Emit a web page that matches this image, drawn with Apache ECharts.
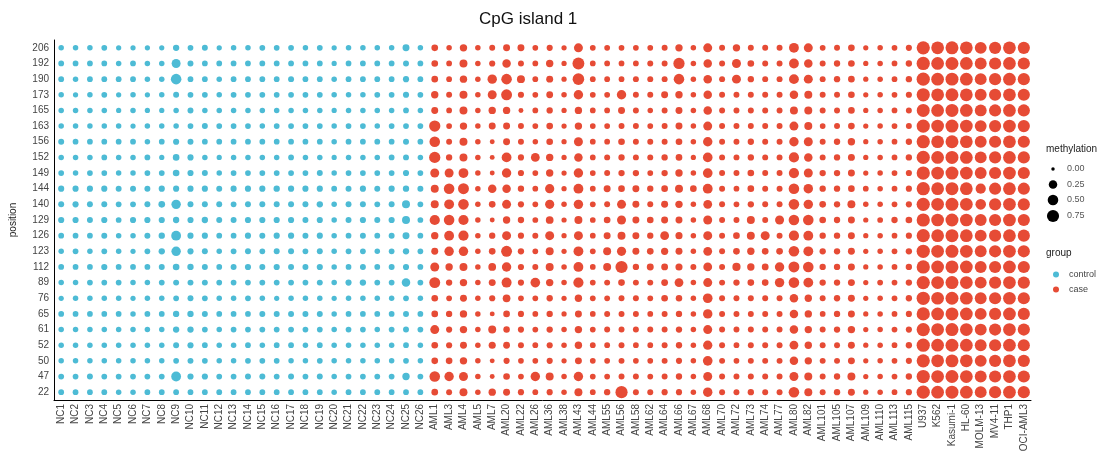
<!DOCTYPE html>
<html>
<head>
<meta charset="utf-8">
<script src="https://cdn.jsdelivr.net/npm/echarts@6/dist/echarts.min.js"></script>
<style>
  html, body { margin: 0; padding: 0; background: #fff; }
  #chart { width: 1111px; height: 467px; }
</style>
</head>
<body>
<div id="chart"></div>
<script>
// CpG positions, listed top to bottom
const positions = ['206','192','190','173','165','163','156','152','149','144','140','129','126','123','112','89','76','65','61','52','50','47','22'];

// Control samples
const ncSamples = ['NC1','NC2','NC3','NC4','NC5','NC6','NC7','NC8','NC9','NC10','NC11','NC12','NC13','NC14','NC15','NC16','NC17','NC18','NC19','NC20','NC21','NC22','NC23','NC24','NC25','NC26'];

// AML patient samples
const amlSamples = ['AML1','AML3','AML4','AML5','AML7','AML20','AML22','AML26','AML36','AML38','AML43','AML44','AML55','AML56','AML58','AML62','AML64','AML66','AML67','AML68','AML70','AML72','AML73','AML74','AML77','AML80','AML82','AML101','AML105','AML107','AML109','AML110','AML113','AML115'];

// Leukemia cell lines
const cellSamples = ['U937','K562','Kasumi-1','HL-60','MOLM-13','MV4-11','THP1','OCI-AML3'];

// Methylation per sample, one entry per position (same order as positions)
const ncValues = [
  [.04,.05,.05,.04,.04,.04,.06,.04,.05,.07,.06,.07,.05,.04,.05,.04,.03,.05,.04,.04,.04,.05,.05],
  [.04,.05,.04,.03,.04,.04,.05,.04,.04,.07,.07,.07,.05,.05,.05,.04,.04,.05,.04,.04,.04,.05,.05],
  [.04,.05,.05,.04,.04,.04,.05,.04,.05,.07,.06,.06,.05,.04,.05,.05,.04,.05,.04,.04,.04,.06,.05],
  [.05,.05,.05,.05,.04,.04,.05,.05,.05,.07,.06,.07,.06,.05,.07,.05,.04,.05,.04,.04,.04,.05,.05],
  [.03,.04,.05,.03,.03,.04,.05,.04,.04,.06,.05,.05,.04,.04,.05,.05,.04,.05,.04,.04,.04,.05,.04],
  [.03,.05,.05,.04,.04,.03,.05,.04,.04,.06,.05,.07,.04,.03,.05,.04,.03,.04,.04,.04,.04,.05,.04],
  [.03,.04,.04,.03,.03,.04,.04,.05,.05,.06,.06,.07,.06,.05,.05,.04,.04,.05,.04,.04,.04,.05,.05],
  [.03,.04,.04,.04,.03,.04,.05,.03,.05,.07,.10,.07,.08,.08,.06,.05,.04,.05,.04,.04,.04,.05,.05],
  [.08,.30,.50,.06,.04,.04,.07,.10,.10,.07,.35,.08,.40,.35,.10,.06,.05,.08,.08,.06,.05,.40,.05],
  [.05,.06,.05,.05,.06,.05,.06,.07,.07,.07,.06,.07,.07,.07,.08,.06,.06,.08,.08,.07,.06,.07,.05],
  [.06,.05,.05,.05,.04,.06,.05,.04,.06,.07,.06,.08,.07,.06,.06,.06,.05,.06,.05,.05,.05,.07,.05],
  [.03,.05,.04,.04,.04,.05,.05,.03,.04,.06,.06,.06,.05,.04,.05,.05,.04,.05,.04,.04,.04,.05,.05],
  [.04,.05,.05,.05,.04,.05,.05,.04,.05,.07,.05,.06,.05,.05,.06,.05,.04,.05,.05,.04,.04,.05,.05],
  [.04,.05,.05,.05,.04,.05,.05,.04,.05,.07,.06,.07,.07,.06,.07,.05,.05,.05,.05,.05,.05,.06,.05],
  [.05,.05,.05,.05,.04,.04,.05,.04,.05,.07,.06,.07,.06,.05,.06,.05,.04,.06,.05,.04,.05,.06,.05],
  [.05,.05,.05,.05,.04,.05,.05,.04,.05,.08,.06,.07,.07,.06,.07,.05,.03,.06,.05,.05,.05,.05,.05],
  [.05,.05,.06,.05,.04,.05,.05,.05,.05,.07,.06,.07,.07,.06,.06,.05,.04,.06,.05,.05,.04,.06,.05],
  [.04,.05,.05,.05,.04,.05,.05,.04,.05,.07,.06,.06,.06,.05,.06,.05,.04,.06,.05,.04,.04,.05,.05],
  [.05,.05,.05,.05,.04,.05,.05,.04,.06,.07,.08,.07,.07,.06,.07,.06,.04,.06,.05,.05,.05,.06,.05],
  [.03,.03,.04,.04,.03,.04,.04,.03,.04,.05,.04,.04,.04,.04,.04,.04,.03,.04,.04,.04,.04,.04,.04],
  [.04,.05,.05,.04,.04,.05,.05,.04,.05,.06,.06,.06,.05,.05,.05,.07,.04,.05,.05,.04,.04,.05,.05],
  [.04,.05,.05,.04,.04,.05,.05,.04,.05,.07,.06,.07,.06,.05,.06,.08,.04,.05,.05,.04,.04,.05,.05],
  [.04,.05,.05,.05,.04,.04,.05,.04,.05,.06,.05,.06,.05,.04,.05,.05,.04,.05,.04,.04,.04,.05,.05],
  [.04,.05,.05,.05,.04,.05,.05,.05,.05,.07,.06,.07,.06,.05,.06,.05,.04,.05,.05,.04,.04,.05,.05],
  [.12,.06,.07,.07,.05,.05,.06,.06,.07,.08,.20,.20,.12,.08,.07,.25,.05,.06,.06,.05,.05,.15,.05],
  [.04,.05,.05,.05,.04,.05,.05,.04,.05,.06,.05,.05,.05,.05,.05,.05,.04,.05,.05,.04,.04,.05,.05]
];

const amlValues = [
  [.10,.10,.10,.15,.12,.60,.50,.60,.30,.20,.20,.45,.15,.12,.30,.55,.10,.10,.30,.10,.10,.50,.10],
  [.04,.05,.05,.06,.05,.05,.06,.08,.30,.50,.40,.50,.40,.35,.15,.08,.05,.08,.07,.07,.10,.35,.06],
  [.15,.20,.15,.20,.20,.15,.20,.20,.40,.55,.50,.45,.45,.35,.20,.15,.12,.15,.15,.12,.15,.30,.20],
  [.04,.04,.04,.04,.04,.04,.04,.04,.04,.04,.04,.04,.04,.04,.04,.04,.04,.04,.04,.04,.04,.04,.04],
  [.06,.07,.35,.30,.15,.12,.02,.02,.02,.25,.10,.02,.08,.10,.18,.12,.07,.02,.20,.13,.02,.02,.15],
  [.12,.25,.50,.55,.15,.12,.12,.40,.35,.25,.30,.15,.30,.55,.35,.42,.18,.10,.09,.11,.07,.10,.12],
  [.12,.06,.20,.07,.02,.06,.06,.07,.07,.08,.07,.08,.07,.08,.07,.07,.05,.07,.07,.06,.05,.05,.07],
  [.05,.05,.05,.05,.05,.05,.04,.28,.05,.05,.05,.05,.06,.05,.06,.38,.05,.05,.05,.05,.05,.35,.05],
  [.07,.15,.12,.11,.08,.10,.10,.15,.15,.33,.32,.18,.30,.20,.20,.15,.08,.08,.08,.07,.07,.20,.07],
  [.03,.03,.03,.04,.03,.03,.03,.03,.03,.03,.04,.03,.03,.03,.04,.04,.03,.03,.04,.04,.03,.04,.04],
  [.30,.70,.65,.35,.15,.15,.30,.25,.35,.40,.35,.20,.30,.40,.40,.45,.15,.12,.15,.15,.12,.35,.20],
  [.05,.05,.05,.05,.05,.05,.05,.05,.05,.05,.05,.05,.05,.05,.05,.05,.05,.05,.05,.05,.05,.05,.05],
  [.05,.05,.05,.05,.05,.05,.05,.06,.06,.12,.06,.10,.12,.20,.20,.06,.05,.06,.06,.05,.05,.05,.08],
  [.05,.05,.05,.35,.12,.06,.10,.08,.08,.10,.30,.30,.20,.32,.75,.10,.06,.06,.06,.06,.06,.06,.75],
  [.05,.05,.06,.06,.06,.06,.06,.06,.08,.12,.12,.12,.12,.12,.08,.06,.06,.06,.06,.05,.05,.06,.06],
  [.05,.06,.06,.06,.04,.05,.06,.06,.05,.08,.06,.10,.08,.10,.12,.06,.05,.05,.06,.05,.05,.05,.06],
  [.06,.06,.06,.12,.06,.06,.06,.08,.08,.10,.12,.12,.28,.14,.11,.11,.10,.06,.06,.06,.06,.06,.07],
  [.15,.60,.50,.15,.12,.12,.10,.10,.15,.20,.15,.12,.13,.12,.13,.28,.09,.08,.08,.08,.07,.08,.07],
  [.04,.04,.04,.04,.04,.04,.04,.03,.04,.10,.04,.04,.04,.04,.06,.04,.04,.04,.04,.04,.04,.04,.04],
  [.30,.25,.25,.25,.25,.30,.35,.38,.38,.40,.28,.30,.30,.28,.28,.30,.38,.35,.30,.33,.38,.30,.35],
  [.06,.06,.06,.06,.06,.06,.06,.06,.06,.06,.06,.06,.06,.06,.06,.06,.06,.06,.06,.06,.06,.06,.06],
  [.15,.30,.30,.06,.06,.06,.06,.06,.06,.05,.05,.06,.10,.10,.22,.08,.06,.06,.06,.05,.05,.06,.06],
  [.06,.10,.08,.06,.06,.06,.08,.08,.10,.10,.08,.20,.20,.15,.15,.10,.06,.06,.06,.06,.06,.06,.08],
  [.06,.06,.06,.06,.06,.06,.06,.06,.06,.06,.06,.06,.30,.10,.11,.10,.06,.06,.06,.06,.06,.06,.06],
  [.06,.06,.06,.06,.06,.06,.06,.06,.06,.06,.06,.30,.06,.10,.35,.35,.06,.06,.06,.06,.06,.06,.06],
  [.40,.40,.40,.25,.20,.30,.35,.45,.45,.50,.50,.50,.45,.50,.55,.50,.25,.25,.25,.28,.25,.30,.50],
  [.30,.25,.30,.20,.20,.20,.30,.25,.30,.35,.35,.50,.40,.40,.50,.40,.15,.15,.15,.15,.15,.20,.20],
  [.05,.06,.06,.06,.06,.05,.06,.06,.08,.08,.10,.10,.08,.08,.08,.08,.06,.05,.06,.06,.06,.06,.06],
  [.06,.08,.08,.06,.06,.06,.08,.08,.08,.08,.08,.08,.08,.08,.08,.08,.08,.08,.08,.06,.06,.08,.08],
  [.10,.10,.10,.10,.10,.10,.15,.12,.12,.10,.20,.12,.12,.12,.12,.12,.12,.12,.15,.12,.12,.20,.12],
  [.03,.03,.03,.03,.03,.03,.03,.03,.03,.05,.04,.03,.03,.03,.03,.03,.03,.03,.03,.03,.03,.03,.03],
  [.04,.04,.04,.04,.04,.04,.04,.04,.04,.04,.04,.05,.04,.04,.04,.05,.04,.04,.04,.04,.04,.04,.04],
  [.05,.05,.05,.05,.05,.05,.05,.05,.05,.05,.05,.08,.05,.05,.05,.05,.05,.05,.05,.05,.05,.05,.05],
  [.07,.08,.08,.07,.06,.06,.08,.08,.07,.07,.07,.10,.07,.08,.08,.08,.08,.07,.07,.08,.07,.08,.07]
];

const cellValues = [
  [.95,.95,.95,.95,.90,.95,.95,.95,.95,.95,.95,.95,.95,.95,.95,.95,.95,.95,.95,.95,.95,.95,.95],
  [.85,.85,.85,.85,.85,.85,.85,.85,.85,.85,.85,.85,.85,.85,.85,.85,.85,.85,.85,.85,.85,.85,.85],
  [.90,.90,.90,.90,.90,.90,.90,.90,.90,.90,.90,.90,.90,.90,.90,.90,.90,.90,.90,.90,.90,.90,.90],
  [.85,.85,.85,.85,.85,.85,.85,.85,.85,.85,.85,.85,.85,.85,.85,.85,.85,.85,.85,.85,.85,.85,.85],
  [.70,.70,.70,.70,.70,.70,.70,.70,.70,.45,.50,.70,.70,.70,.70,.70,.70,.70,.70,.70,.70,.70,.70],
  [.75,.75,.75,.75,.75,.75,.75,.75,.75,.75,.75,.75,.75,.75,.75,.75,.75,.75,.75,.75,.75,.75,.75],
  [.85,.85,.85,.85,.85,.85,.85,.85,.85,.85,.85,.85,.85,.85,.85,.85,.85,.85,.85,.85,.85,.85,.85],
  [.75,.75,.75,.75,.75,.75,.75,.75,.75,.75,.75,.75,.75,.75,.75,.75,.75,.75,.75,.75,.75,.75,.75]
];

// Size legend breaks
const sizeBreaks = [0, 0.25, 0.5, 0.75];
const sizeBreakLabels = ['0.00', '0.25', '0.50', '0.75'];

const COLOR_CONTROL = '#4DBBD5';
const COLOR_CASE = '#E64B35';
const FONT = 'Liberation Sans, Arial, sans-serif';

function dotSize(v) { return 3.5 + 10 * Math.sqrt(v); }

function toPoints(samples, values) {
  const pts = [];
  samples.forEach((s, i) => {
    values[i].forEach((v, j) => pts.push([s, positions[j], v]));
  });
  return pts;
}

const allSamples = ncSamples.concat(amlSamples, cellSamples);
const controlData = toPoints(ncSamples, ncValues);
const caseData = toPoints(amlSamples, amlValues).concat(toPoints(cellSamples, cellValues));

const chart = echarts.init(document.getElementById('chart'), null, { renderer: 'canvas' });

const legendX = 1053;
const sizeLegendY = [169, 184.5, 200, 216];
const graphics = [
  { type: 'text', left: 1046, top: 144, style: { text: 'methylation', font: '10px ' + FONT, fill: '#222' } },
  { type: 'text', left: 1046, top: 248, style: { text: 'group', font: '10px ' + FONT, fill: '#222' } }
];
sizeBreaks.forEach((b, i) => {
  graphics.push({ type: 'circle', shape: { cx: legendX, cy: sizeLegendY[i], r: dotSize(b) / 2 }, style: { fill: '#000' } });
  graphics.push({ type: 'text', x: 1067, y: sizeLegendY[i], style: { text: sizeBreakLabels[i], font: '9px ' + FONT, fill: '#555', verticalAlign: 'middle' } });
});

chart.setOption({
  animation: false,
  backgroundColor: '#fff',
  title: {
    text: 'CpG island 1',
    left: 474, top: 6,
    textStyle: { fontFamily: FONT, fontSize: 17, fontWeight: 'normal', color: '#111' }
  },
  grid: { left: 48, right: 80, top: 40, bottom: 67, containLabel: false },
  legend: {
    orient: 'vertical', left: 1048, top: 265,
    icon: 'circle', itemWidth: 6, itemHeight: 6, itemGap: 6,
    textStyle: { fontFamily: FONT, fontSize: 9, color: '#444', padding: [0, 0, 0, 5] },
    data: ['control', 'case']
  },
  xAxis: {
    type: 'category',
    data: allSamples,
    boundaryGap: true,
    axisLine: { lineStyle: { color: '#000', width: 1 } },
    axisTick: { alignWithLabel: true, length: 3, lineStyle: { color: '#333' } },
    axisLabel: { rotate: 90, interval: 0, fontFamily: FONT, fontSize: 10, color: '#444', margin: 4 },
    splitLine: { show: false }
  },
  yAxis: {
    type: 'category',
    data: positions,
    inverse: true,
    boundaryGap: true,
    name: 'position',
    nameLocation: 'middle',
    nameGap: 36,
    nameRotate: 90,
    nameTextStyle: { fontFamily: FONT, fontSize: 10, color: '#222' },
    axisLine: { lineStyle: { color: '#000', width: 1 } },
    axisTick: { alignWithLabel: true, length: 3, lineStyle: { color: '#333' } },
    axisLabel: { interval: 0, fontFamily: FONT, fontSize: 10, color: '#444', margin: 5 },
    splitLine: { show: false }
  },
  series: [
    {
      name: 'control', type: 'scatter', data: controlData,
      symbolSize: v => dotSize(v[2]),
      itemStyle: { color: COLOR_CONTROL, opacity: 1 }
    },
    {
      name: 'case', type: 'scatter', data: caseData,
      symbolSize: v => dotSize(v[2]),
      itemStyle: { color: COLOR_CASE, opacity: 1 }
    }
  ],
  graphic: graphics
});
</script>
</body>
</html>
